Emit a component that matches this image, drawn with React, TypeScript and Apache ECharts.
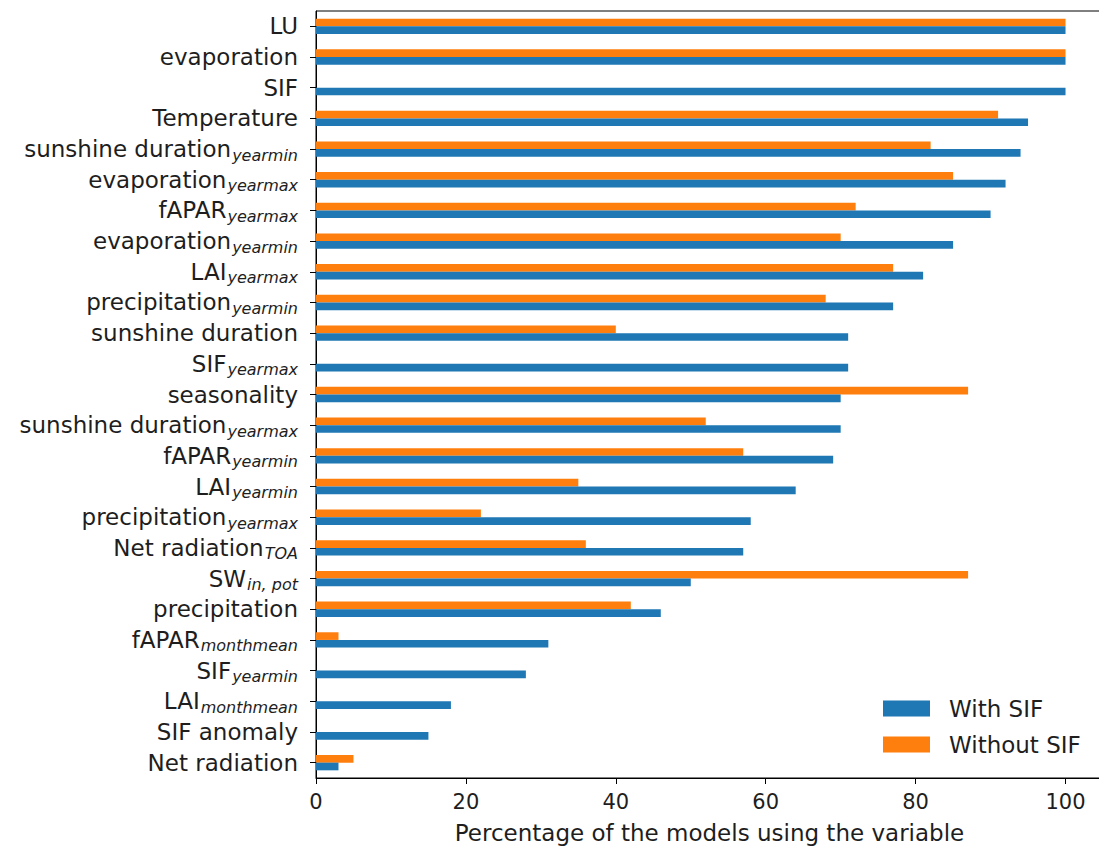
import React, { useEffect, useRef } from "react";
import * as echarts from "echarts";

// Variables, listed top to bottom, with their subscripts ("" when none)
const variableNames = [
  "LU", "evaporation", "SIF", "Temperature", "sunshine duration", "evaporation",
  "fAPAR", "evaporation", "LAI", "precipitation", "sunshine duration", "SIF",
  "seasonality", "sunshine duration", "fAPAR", "LAI", "precipitation",
  "Net radiation", "SW", "precipitation", "fAPAR", "SIF", "LAI", "SIF anomaly",
  "Net radiation",
];
const variableSubscripts = [
  "", "", "", "", "yearmin", "yearmax",
  "yearmax", "yearmin", "yearmax", "yearmin", "", "yearmax",
  "", "yearmax", "yearmin", "yearmin", "yearmax",
  "TOA", "in, pot", "", "monthmean", "yearmin", "monthmean", "",
  "",
];

// Percentage of the models using each variable
const withSIF = [100, 100, 100, 95, 94, 92, 90, 85, 81, 77, 71, 71, 70, 70, 69, 64, 58, 57, 50, 46, 31, 28, 18, 15, 3];
const withoutSIF = [100, 100, 0, 91, 82, 85, 72, 70, 77, 68, 40, 0, 87, 52, 57, 35, 22, 36, 87, 42, 3, 0, 0, 0, 5];

const xTicks = [0, 20, 40, 60, 80, 100];

const FONT = "DejaVu Sans";
const TEXT = "#1e1e1e";

export default function App() {
  const ref = useRef<HTMLDivElement>(null);

  useEffect(() => {
    if (!ref.current) return;
    const chart = echarts.init(ref.current, undefined, { renderer: "svg" });
    const keys = variableNames.map((n, i) => `${i}|${n}|${variableSubscripts[i]}`);

    chart.setOption({
      animation: false,
      textStyle: { fontFamily: FONT, color: TEXT },
      grid: {
        left: 316,
        top: 11,
        bottom: 73,
        right: 0,
        show: true,
        borderColor: "#000",
        borderWidth: 1,
        backgroundColor: "transparent",
      },
      legend: {
        data: ["With SIF", "Without SIF"],
        orient: "vertical",
        left: 883,
        top: 697,
        padding: 0,
        itemWidth: 47,
        itemHeight: 16,
        itemGap: 13,
        icon: "rect",
        textStyle: { fontFamily: FONT, fontSize: 23, color: TEXT, padding: [0, 0, 0, 14] },
      },
      xAxis: {
        type: "value",
        min: 0,
        max: 105,
        interval: 20,
        name: "Percentage of the models using the variable",
        nameLocation: "middle",
        nameGap: 43,
        nameTextStyle: { fontFamily: FONT, fontSize: 23, color: TEXT },
        axisLine: { show: true, lineStyle: { color: "#000", width: 1 } },
        axisTick: { show: true, length: 6, lineStyle: { color: "#000" } },
        axisLabel: {
          fontFamily: FONT,
          fontSize: 21,
          color: TEXT,
          margin: 13,
          formatter: (v: number) => (xTicks.includes(v) ? String(v) : ""),
        },
        splitLine: { show: false },
      },
      yAxis: {
        type: "category",
        inverse: true,
        data: keys,
        axisLine: { show: true, lineStyle: { color: "#000", width: 1 } },
        axisTick: { show: true, length: 6, alignWithLabel: true, lineStyle: { color: "#000" } },
        axisLabel: {
          margin: 18,
          interval: 0,
          formatter: (k: string) => {
            const [, name, sub] = k.split("|");
            return sub ? `{main|${name}}{sub|${sub}}` : `{main|${name}}`;
          },
          rich: {
            main: { fontFamily: FONT, fontSize: 23, color: TEXT },
            sub: {
              fontFamily: FONT,
              fontSize: 16,
              fontStyle: "italic",
              color: TEXT,
              padding: [12, 0, 0, 1],
            },
          },
        },
      },
      series: [
        {
          name: "Without SIF",
          type: "bar",
          data: withoutSIF,
          barWidth: "25%",
          barGap: "0%",
          itemStyle: { color: "#ff7f0e" },
        },
        {
          name: "With SIF",
          type: "bar",
          data: withSIF,
          barWidth: "25%",
          barGap: "0%",
          itemStyle: { color: "#1f77b4" },
        },
      ],
    });

    return () => chart.dispose();
  }, []);

  // The plot box runs a few pixels past the right edge of the window,
  // so its right-hand frame line falls outside the visible area.
  return (
    <div
      ref={ref}
      style={{ position: "fixed", left: 0, top: 0, width: 1106, height: 851, background: "#fff" }}
    />
  );
}
